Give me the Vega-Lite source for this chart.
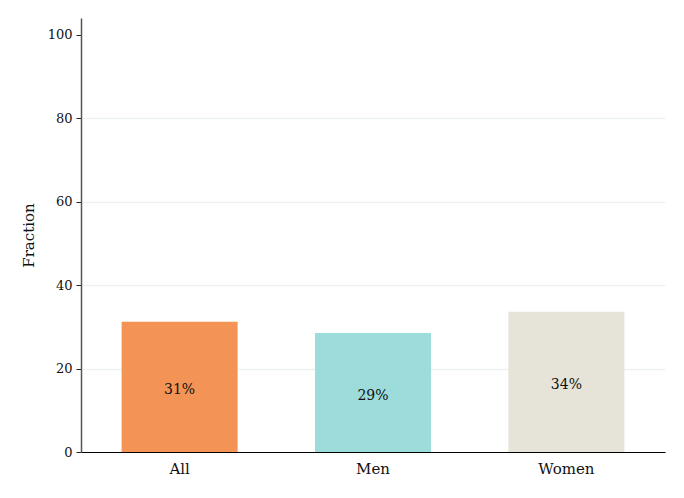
{
  "$schema": "https://vega.github.io/schema/vega-lite/v6.json",
  "width": 584,
  "height": 434,
  "autosize": "none",
  "padding": {"left": 81, "top": 18, "right": 19, "bottom": 46},
  "background": "white",
  "config": {
    "font": "DejaVu Serif",
    "view": {"stroke": null}
  },
  "data": {
    "values": [
      {"group": "All", "value": 31.2, "label": "31%"},
      {"group": "Men", "value": 28.5, "label": "29%"},
      {"group": "Women", "value": 33.6, "label": "34%"}
    ]
  },
  "transform": [{"calculate": "datum.value / 2", "as": "mid"}],
  "encoding": {
    "x": {
      "field": "group",
      "type": "nominal",
      "sort": null,
      "scale": {"paddingInner": 0.4, "paddingOuter": 0.21},
      "axis": {
        "title": null,
        "labelAngle": 0,
        "ticks": false,
        "labelPadding": 9,
        "labelFontSize": 15,
        "labelColor": "#111",
        "domainColor": "#000",
        "domainWidth": 1.2
      }
    }
  },
  "layer": [
    {
      "mark": {"type": "bar"},
      "encoding": {
        "y": {
          "field": "value",
          "type": "quantitative",
          "scale": {"domain": [0, 104], "nice": false},
          "axis": {
            "title": "Fraction",
            "titleFontSize": 15,
            "titleFontWeight": "normal",
            "titleColor": "#111",
            "titlePadding": 11,
            "values": [0, 20, 40, 60, 80, 100],
            "labelFontSize": 13,
            "labelColor": "#111",
            "labelPadding": 4,
            "tickSize": 5,
            "tickColor": "#222",
            "domainColor": "#555",
            "domainWidth": 1.5,
            "grid": true,
            "gridColor": "#edf1f4",
            "gridWidth": 1.5,
            "gridOpacity": {"condition": {"test": "datum.value >= 100 || datum.value <= 0", "value": 0}, "value": 1}
          }
        },
        "color": {
          "field": "group",
          "type": "nominal",
          "scale": {"domain": ["All", "Men", "Women"], "range": ["#f39456", "#9cdcdb", "#e6e3d8"]},
          "legend": null
        }
      }
    },
    {
      "mark": {"type": "text", "fontSize": 14, "color": "#111", "baseline": "middle", "dy": 3},
      "encoding": {
        "y": {"field": "mid", "type": "quantitative"},
        "text": {"field": "label"}
      }
    }
  ]
}
